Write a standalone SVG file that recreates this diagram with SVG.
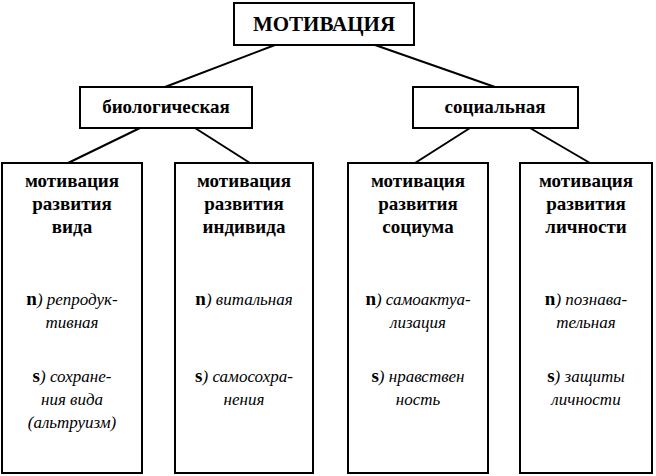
<svg xmlns="http://www.w3.org/2000/svg" width="656" height="476" viewBox="0 0 656 476">
<style>
rect{fill:#fff;stroke:#000;stroke-width:2}
line{stroke:#000;stroke-width:2}
text{text-anchor:middle;fill:#000}
.b{font-weight:bold;font-size:19px;font-style:normal}
.h{font-weight:bold;font-size:21px}
.i{font-style:italic;font-size:17px}
</style>
<rect width="656" height="476" style="stroke:none"/>
<g id="connectors">
<line x1="275" y1="45" x2="165" y2="87"/>
<line x1="375" y1="45" x2="495" y2="87"/>
<line x1="140" y1="128" x2="68" y2="163"/>
<line x1="195" y1="128" x2="250" y2="163"/>
<line x1="470" y1="128" x2="415" y2="163"/>
<line x1="530" y1="128" x2="590" y2="163"/>
</g>
<g font-family="Liberation Serif, DejaVu Serif, serif">
<g id="top"><rect x="234" y="3" width="180" height="42"/><text class="h" x="324" y="31">МОТИВАЦИЯ</text></g>
<g id="bio"><rect x="80" y="87" width="172" height="41"/><text class="b" x="166" y="113">биологическая</text></g>
<g id="soc"><rect x="413" y="87" width="165" height="41"/><text class="b" x="495" y="113">социальная</text></g>
<g id="n1"><rect x="2" y="163" width="140" height="310"/>
<text class="b" x="72" y="187">мотивация</text><text class="b" x="72" y="210">развития</text><text class="b" x="72" y="233">вида</text>
<text class="i" x="72" y="305"><tspan class="b">n</tspan>) репродук-</text><text class="i" x="72" y="328">тивная</text>
<text class="i" x="72" y="382"><tspan class="b">s</tspan>) сохране-</text><text class="i" x="72" y="405">ния вида</text><text class="i" x="72" y="428">(альтруизм)</text></g>
<g id="n2"><rect x="175" y="163" width="138" height="310"/>
<text class="b" x="244" y="187">мотивация</text><text class="b" x="244" y="210">развития</text><text class="b" x="244" y="233">индивида</text>
<text class="i" x="244" y="305"><tspan class="b">n</tspan>) витальная</text>
<text class="i" x="244" y="382"><tspan class="b">s</tspan>) самосохра-</text><text class="i" x="244" y="405">нения</text></g>
<g id="n3"><rect x="348" y="163" width="140" height="310"/>
<text class="b" x="418" y="187">мотивация</text><text class="b" x="418" y="210">развития</text><text class="b" x="418" y="233">социума</text>
<text class="i" x="418" y="305"><tspan class="b">n</tspan>) самоактуа-</text><text class="i" x="418" y="328">лизация</text>
<text class="i" x="418" y="382"><tspan class="b">s</tspan>) нравствен</text><text class="i" x="418" y="405">ность</text></g>
<g id="n4"><rect x="520" y="163" width="132" height="310"/>
<text class="b" x="586" y="187">мотивация</text><text class="b" x="586" y="210">развития</text><text class="b" x="586" y="233">личности</text>
<text class="i" x="586" y="305"><tspan class="b">n</tspan>) познава-</text><text class="i" x="586" y="328">тельная</text>
<text class="i" x="586" y="382"><tspan class="b">s</tspan>) защиты</text><text class="i" x="586" y="405">личности</text></g>
</g>
</svg>
